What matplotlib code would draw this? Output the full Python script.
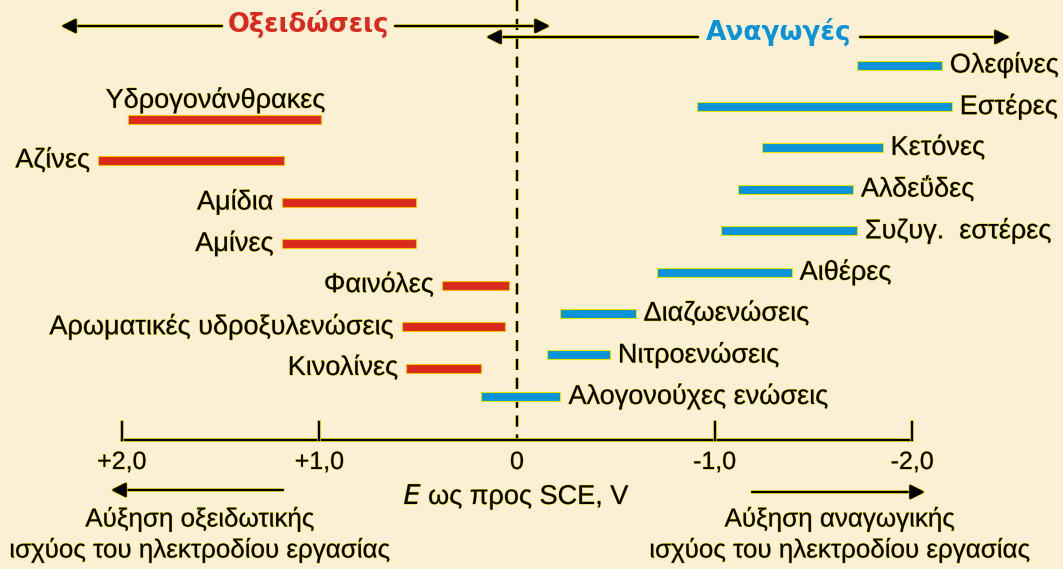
import matplotlib.pyplot as plt
from matplotlib import patheffects as pe

plt.rcParams['font.family'] = ['Liberation Sans', 'DejaVu Sans']

# Potential windows (V vs SCE) for oxidation of each compound class
ox_names = ['Υδρογονάνθρακες', 'Αζίνες', 'Αμίδια', 'Αμίνες', 'Φαινόλες',
            'Αρωματικές υδροξυλενώσεις', 'Κινολίνες']
ox_from = [1.97, 2.12, 1.19, 1.19, 0.38, 0.58, 0.56]
ox_to = [0.99, 1.18, 0.51, 0.51, 0.04, 0.06, 0.18]

# Potential windows (V vs SCE) for reduction
red_names = ['Ολεφίνες', 'Εστέρες', 'Κετόνες', 'Αλδεΰδες', 'Συζυγ.  εστέρες',
             'Αιθέρες', 'Διαζωενώσεις', 'Νιτροενώσεις', 'Αλογονούχες ενώσεις']
red_from = [-1.72, -0.91, -1.24, -1.12, -1.03, -0.71, -0.22, -0.15, 0.18]
red_to = [-2.15, -2.20, -1.85, -1.70, -1.72, -1.39, -0.60, -0.47, -0.22]

ticks = [2.0, 1.0, 0.0, -1.0, -2.0]
tick_labels = ['+2,0', '+1,0', '0', '-1,0', '-2,0']

RED = '#DA2A1E'
BLUE = '#0A93D6'
BG = '#FBF0D4'
GLOW = '#E6D200'
glow = [pe.withStroke(linewidth=0.7, foreground='#D8C400')]
line_glow = [pe.withStroke(linewidth=2.6, foreground=GLOW)]
FS = 19.5

fig = plt.figure(figsize=(10.63, 5.69), dpi=100, facecolor=BG)
ax = fig.add_axes([0, 0, 1, 1])
ax.set_facecolor(BG)
# x in volts (positive to the left), y in pixel rows from the top
px = 197.6
ax.set_xlim(517 / px, (517 - 1063) / px)
ax.set_ylim(569, 0)
ax.axis('off')


def to_v(x):
    return (517 - x) / px


dx = 8 / px  # gap between bar end and label
bar_h = 9

# oxidation bars
for i, (name, a, b) in enumerate(zip(ox_names, ox_from, ox_to)):
    y = 119 + 41.5 * i
    ax.barh(y, b - a, left=a, height=bar_h, color=RED, edgecolor='#F0C000',
            linewidth=0.8, zorder=3)
    if i == 0:
        ax.text((a + b) / 2 + 9 / px, y - 19, name, fontsize=FS, ha='center',
                va='center', path_effects=glow)
    else:
        ax.text(a + dx, y, name, fontsize=FS, ha='right', va='center',
                path_effects=glow)

# reduction bars
for i, (name, a, b) in enumerate(zip(red_names, red_from, red_to)):
    y = 65 + 41.4 * i
    ax.barh(y, b - a, left=a, height=bar_h, color=BLUE, edgecolor='#E8E000',
            linewidth=0.8, zorder=3)
    ax.text(b - dx, y, name, fontsize=FS, ha='left', va='center',
            path_effects=glow)

# zero line
ax.plot([0, 0], [0, 440], color='black', lw=1.6, ls=(0, (5, 3.5)), zorder=2,
        path_effects=line_glow)

# potential axis
ax.plot([ticks[0], ticks[-1]], [440, 440], color='black', lw=1.6, zorder=2,
        path_effects=line_glow)
for t, lab in zip(ticks, tick_labels):
    if t != 0:
        ax.plot([t, t], [422, 440], color='black', lw=1.6, path_effects=line_glow)
    ax.text(t, 462, lab, fontsize=18, ha='center', va='center', path_effects=glow)

ax.text(0, 497, r'$\it{E}$ ως προς SCE, V', fontsize=FS, ha='center', va='center',
        path_effects=glow)

arrow_kw = dict(arrowstyle='-|>', color='black', lw=1.6, mutation_scale=22,
                shrinkA=0, shrinkB=0, path_effects=line_glow)

# top arrows with section titles
ax.annotate('', xy=(to_v(61), 26), xytext=(to_v(222), 26), arrowprops=arrow_kw)
ax.annotate('', xy=(to_v(550), 26), xytext=(to_v(395), 26), arrowprops=arrow_kw)
ax.text(to_v(308), 24, 'Οξειδώσεις', fontsize=18.5, fontweight='bold', color=RED,
        family='DejaVu Sans', ha='center', va='center')

ax.annotate('', xy=(to_v(486), 37), xytext=(to_v(698), 37), arrowprops=arrow_kw)
ax.annotate('', xy=(to_v(1010), 37), xytext=(to_v(860), 37), arrowprops=arrow_kw)
ax.text(to_v(779), 32, 'Αναγωγές', fontsize=19, fontweight='bold', color=BLUE,
        family='DejaVu Sans', ha='center', va='center')

# bottom arrows with captions
ax.annotate('', xy=(to_v(111), 490), xytext=(to_v(283), 490), arrowprops=arrow_kw)
ax.text(to_v(200), 519, 'Αύξηση οξειδωτικής', fontsize=18.7, ha='center',
        va='center', path_effects=glow)
ax.text(to_v(200), 550, 'ισχύος του ηλεκτροδίου εργασίας', fontsize=18.7,
        ha='center', va='center', path_effects=glow)
ax.annotate('', xy=(to_v(925), 492), xytext=(to_v(752), 492), arrowprops=arrow_kw)
ax.text(to_v(840), 519, 'Αύξηση αναγωγικής', fontsize=18.7, ha='center',
        va='center', path_effects=glow)
ax.text(to_v(840), 550, 'ισχύος του ηλεκτροδίου εργασίας', fontsize=18.7,
        ha='center', va='center', path_effects=glow)

fig.savefig('out.png', dpi=100, facecolor=BG)
